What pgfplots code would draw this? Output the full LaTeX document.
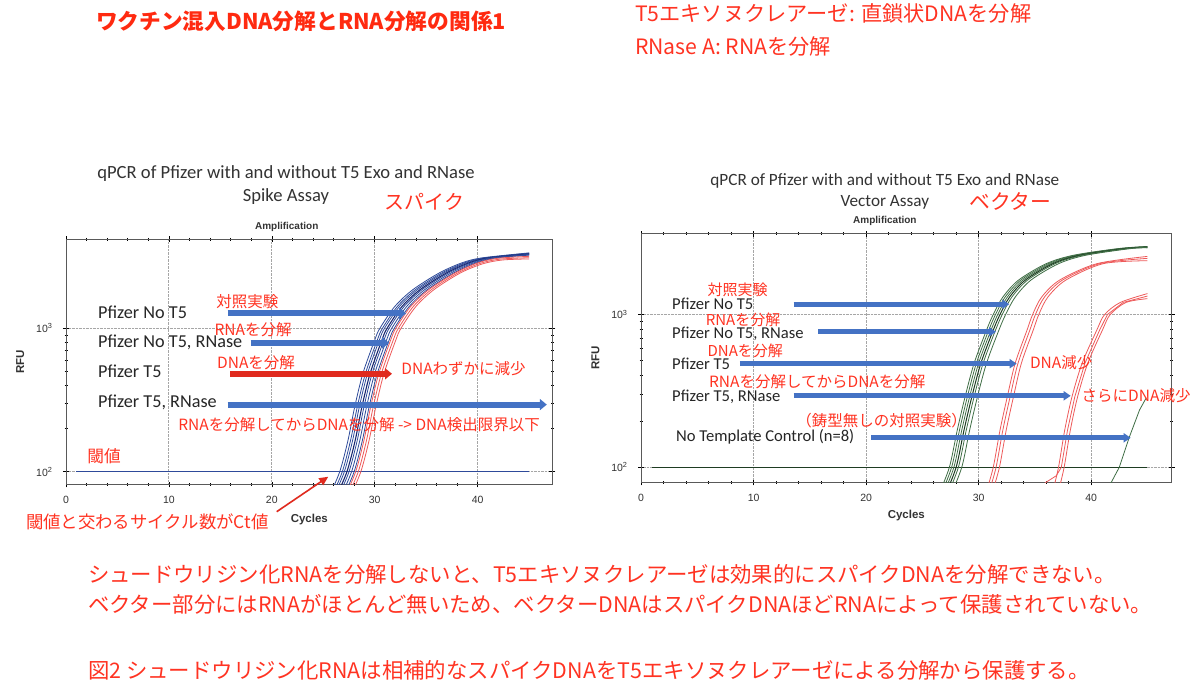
\documentclass[border=0pt]{standalone}
\usepackage{fontspec}
\usepackage{pgfplots}
\pgfplotsset{compat=1.18}
\usetikzlibrary{arrows.meta}
\setmainfont{Carlito}
\newfontfamily\jp{Noto Sans CJK JP}
\newfontfamily\lsans{Liberation Sans}
\newcommand\fs[1]{\fontsize{#1}{#1}\selectfont}
\definecolor{tred}{HTML}{FF2A10}
\definecolor{ared}{HTML}{FF3322}
\definecolor{bline}{HTML}{2E4A9A}
\definecolor{bdark}{HTML}{1A2870}
\definecolor{rline}{HTML}{EE5A5A}
\definecolor{gline}{HTML}{3F6E45}
\definecolor{gdark}{HTML}{1E3C22}
\definecolor{arrb}{HTML}{4472C4}
\definecolor{arrr}{HTML}{E02A1E}
\definecolor{txt}{HTML}{333333}
\pgfplotsset{every axis/.append style={
  scale only axis, ymode=log, xmin=0,
  xtick={0,10,20,30,40}, ytick={100,1000},
  yticklabels={10\textsuperscript{2},10\textsuperscript{3}},
  minor x tick num=4,
  grid=major, major grid style={densely dotted, gray!70, line width=0.9pt},
  axis line style={gray!70!black, line width=1pt},
  tick align=center, major tick length=6pt, minor tick length=3pt,
  tick style={black, line width=0.6pt},
  ticklabel style={font=\lsans\fs{10.5}, text=black!80},
  yticklabel style={xshift=-7pt},
  xticklabel style={yshift=-5pt},
  clip=true,
  axis background/.style={fill=white},
  /pgf/number format/assume math mode=true
}}
\tikzset{redc/.style={rline, line width=0.8pt}}
\begin{document}
\begin{tikzpicture}[x=1pt,y=1pt]
\fill[white] (0,0) rectangle (1200,686);
\useasboundingbox (0,0) rectangle (1200,686);
% ---------------- LEFT: Spike assay ----------------
\begin{axis}[at={(66pt,201.5pt)}, anchor=south west, width=486.3pt, height=245.2pt,
  xmax=47.26, ymin=81.5, ymax=4180]
\addplot[bline, line width=1.1pt] coordinates {(1,100)(45,100)};
\addplot[bline, line width=0.8pt, smooth] coordinates {(25.6,68)(26.6,100)(27.4,165)(28.05,282)(28.85,484)(30.0,828)(30.5,1000)(31.95,1420)(33.7,1860)(36.25,2430)(38.45,2860)(40.4,3100)(45,3360)};
\addplot[bline, line width=0.8pt, smooth] coordinates {(25.85,68)(26.85,100)(27.65,165)(28.3,282)(29.1,484)(30.25,828)(30.75,1000)(32.2,1420)(33.95,1860)(36.5,2430)(38.7,2860)(40.65,3100)(45,3340)};
\addplot[bline, line width=0.8pt, smooth] coordinates {(26.05,68)(27.05,100)(27.85,165)(28.5,282)(29.3,484)(30.45,828)(30.95,1000)(32.4,1420)(34.15,1860)(36.7,2430)(38.9,2860)(40.85,3100)(45,3320)};
\addplot[bdark, line width=1.1pt, smooth] coordinates {(26.3,68)(27.3,100)(28.1,165)(28.75,282)(29.55,484)(30.7,828)(31.2,1000)(32.65,1420)(34.4,1860)(36.95,2430)(39.15,2860)(41.1,3100)(45,3300)};
\addplot[bline, line width=0.8pt, smooth] coordinates {(26.5,68)(27.5,100)(28.3,165)(28.95,282)(29.75,484)(30.9,828)(31.4,1000)(32.85,1420)(34.6,1860)(37.15,2430)(39.35,2860)(41.3,3100)(45,3280)};
\addplot[bline, line width=0.8pt, smooth] coordinates {(26.75,68)(27.75,100)(28.55,165)(29.2,282)(30.0,484)(31.15,828)(31.65,1000)(33.1,1420)(34.85,1860)(37.4,2430)(39.6,2860)(41.55,3100)(45,3260)};
\addplot[bline, line width=0.8pt, smooth] coordinates {(27.0,68)(28.0,100)(28.8,165)(29.45,282)(30.25,484)(31.4,828)(31.9,1000)(33.35,1420)(35.1,1860)(37.65,2430)(39.85,2860)(41.8,3100)(45,3240)};
\addplot[redc, smooth] coordinates {(27.15,68)(28.15,100)(28.95,165)(29.6,282)(30.4,484)(31.55,828)(32.05,1000)(33.5,1420)(35.25,1860)(37.8,2430)(40.0,2860)(41.95,3080)(45,3180)};
\addplot[redc, smooth] coordinates {(27.4,68)(28.4,100)(29.2,165)(29.85,282)(30.65,484)(31.8,828)(32.3,1000)(33.75,1420)(35.5,1860)(38.05,2430)(40.25,2840)(42.2,3040)(45,3110)};
\addplot[redc, smooth] coordinates {(27.65,68)(28.65,100)(29.45,165)(30.1,282)(30.9,484)(32.05,828)(32.55,1000)(34.0,1420)(35.75,1860)(38.3,2430)(40.5,2820)(42.45,3000)(45,3050)};
\end{axis}
% ---------------- RIGHT: Vector assay ----------------
\begin{axis}[at={(641.1pt,203.5pt)}, anchor=south west, width=530.6pt, height=248.5pt,
  xmax=47.16, ymin=79.5, ymax=3365]
\addplot[gdark, line width=1.1pt] coordinates {(1,100)(45,100)};
\addplot[gline, line width=0.8pt, smooth] coordinates {(26.4,65)(27.4,100)(28.1,175)(28.8,290)(29.6,480)(30.7,790)(31.3,1000)(32.15,1300)(33.55,1680)(36.0,2150)(38.4,2440)(42.4,2700)(45,2790)};
\addplot[gline, line width=0.8pt, smooth] coordinates {(26.6,65)(27.6,100)(28.3,175)(29.0,290)(29.8,480)(30.9,790)(31.5,1000)(32.35,1300)(33.75,1680)(36.2,2150)(38.6,2440)(42.6,2700)(45,2780)};
\addplot[gline, line width=0.8pt, smooth] coordinates {(26.8,65)(27.8,100)(28.5,175)(29.2,290)(30.0,480)(31.1,790)(31.7,1000)(32.55,1300)(33.95,1680)(36.4,2150)(38.8,2440)(42.8,2700)(45,2770)};
\addplot[gdark, line width=1.0pt, smooth] coordinates {(27.0,65)(28.0,100)(28.7,175)(29.4,290)(30.2,480)(31.3,790)(31.9,1000)(32.75,1300)(34.15,1680)(36.6,2150)(39.0,2440)(43.0,2700)(45,2760)};
\addplot[gline, line width=0.8pt, smooth] coordinates {(27.2,65)(28.2,100)(28.9,175)(29.6,290)(30.4,480)(31.5,790)(32.1,1000)(32.95,1300)(34.35,1680)(36.8,2150)(39.2,2440)(43.2,2700)(45,2750)};
\addplot[gline, line width=0.8pt, smooth] coordinates {(27.5,65)(28.5,100)(29.2,175)(29.9,290)(30.7,480)(31.8,790)(32.4,1000)(33.25,1300)(34.65,1680)(37.1,2150)(39.5,2440)(43.5,2700)(45,2730)};
\addplot[redc, smooth] coordinates {(30.7,70)(31.3,100)(31.9,175)(32.55,290)(33.25,480)(34.3,790)(34.8,1000)(35.6,1300)(37.2,1680)(40.5,2150)(45,2400)};
\addplot[redc, smooth] coordinates {(30.95,70)(31.55,100)(32.15,175)(32.8,290)(33.5,480)(34.55,790)(35.05,1000)(35.85,1300)(37.45,1680)(40.75,2150)(45,2330)};
\addplot[redc, smooth] coordinates {(31.25,70)(31.85,100)(32.45,175)(33.1,290)(33.8,480)(34.85,790)(35.35,1000)(36.15,1300)(37.75,1680)(41.05,2150)(45,2250)};
\addplot[redc, smooth] coordinates {(36.6,70)(37.1,100)(37.65,175)(38.3,290)(39.2,480)(40.5,790)(41.2,1000)(42.6,1200)(45,1370)};
\addplot[redc] coordinates {(35.9,79)(36.9,88)(37.35,100)(37.9,175)(38.55,290)(39.45,480)(40.75,790)(41.45,1000)(42.85,1200)(45,1320)};
\addplot[redc, smooth] coordinates {(37.1,70)(37.6,100)(38.15,175)(38.8,290)(39.7,480)(41.0,790)(41.7,1000)(43.1,1200)(45,1270)};
\addplot[gline, line width=0.8pt] coordinates {(41.6,75)(42.5,100)(43.4,158)(44.3,237)(44.9,285)};
\end{axis}
% ---------------- annotations (top-left origin, y downwards) ----------------
\begin{scope}[shift={(0,686)}, x=1pt, y=-1pt, every node/.style={inner sep=0pt, outer sep=0pt}]
% arrows left
\draw[arrb, line width=6pt, -{Triangle[length=7pt, width=11pt]}] (227.5,313.3) -- (406.2,313.3);
\draw[arrb, line width=6pt, -{Triangle[length=7pt, width=11pt]}] (250.5,342.9) -- (389.2,342.9);
\draw[arrr, line width=6pt, -{Triangle[length=7pt, width=11pt]}] (230.1,373.8) -- (392.0,373.8);
\draw[arrb, line width=6pt, -{Triangle[length=7pt, width=11pt]}] (227.5,404.6) -- (546.8,404.6);
\draw[arrr, line width=1.6pt, -{Triangle[length=9pt, width=8pt]}] (276.7,511.7) -- (328.3,476.7);
% arrows right
\draw[arrb, line width=4.8pt, -{Triangle[length=7pt, width=9pt]}] (793.5,304.2) -- (1009.3,304.2);
\draw[arrb, line width=4.8pt, -{Triangle[length=7pt, width=9pt]}] (818.3,331.8) -- (996.0,331.8);
\draw[arrb, line width=4.8pt, -{Triangle[length=7pt, width=9pt]}] (739.8,363.7) -- (1016.7,363.7);
\draw[arrb, line width=4.8pt, -{Triangle[length=7pt, width=9pt]}] (793.5,395.8) -- (1070.7,395.8);
\draw[arrb, line width=4.8pt, -{Triangle[length=7pt, width=9pt]}] (871.2,437.8) -- (1130.7,437.8);
% top texts
\node[anchor=west, text=tred, font=\jp\bfseries\fs{21.7}] at (96,21.7) {ワクチン混入DNA分解とRNA分解の関係1};
\node[anchor=west, text=ared, font=\jp\fs{21.2}] at (635,13.5) {T5エキソヌクレアーゼ: 直鎖状DNAを分解};
\node[anchor=west, text=ared, font=\jp\fs{21.2}] at (635,46) {RNase A: RNAを分解};
% left chart texts
\node[text=txt, font=\fs{18.6}] at (286,173.3) {qPCR of Pfizer with and without T5 Exo and RNase};
\node[text=txt, font=\fs{18.6}] at (286,196.7) {Spike Assay};
\node[anchor=west, text=ared, font=\jp\fs{20}] at (384.8,201.7) {スパイク};
\node[text=black!80, font=\lsans\bfseries\fs{10}] at (286.7,226.7) {Amplification};
\node[text=black!80, font=\lsans\bfseries\fs{11.5}, rotate=90] at (20.3,361.7) {RFU};
\node[text=black!80, font=\lsans\bfseries\fs{11.5}] at (309.3,520) {Cycles};
\node[anchor=west, text=black!85, font=\fs{18.2}] at (98,312.3) {Pfizer No T5};
\node[anchor=west, text=black!85, font=\fs{18.2}] at (98,342.7) {Pfizer No T5, RNase};
\node[anchor=west, text=black!85, font=\fs{18.2}] at (98,371.7) {Pfizer T5};
\node[anchor=west, text=black!85, font=\fs{18.2}] at (98,402.3) {Pfizer T5, RNase};
\node[anchor=west, text=ared, font=\jp\fs{15.5}] at (216.4,301.7) {対照実験};
\node[anchor=west, text=ared, font=\jp\fs{15.5}] at (214.6,330) {RNAを分解};
\node[anchor=west, text=ared, font=\jp\fs{15.5}] at (217.2,362.3) {DNAを分解};
\node[anchor=west, text=ared, font=\jp\fs{15.5}] at (401.4,369) {DNAわずかに減少};
\node[anchor=west, text=ared, font=\jp\fs{15.5}] at (178.3,424.3) {RNAを分解してからDNAを分解 -> DNA検出限界以下};
\node[anchor=west, text=ared, font=\jp\fs{16.7}] at (87.3,455.7) {閾値};
\node[anchor=west, text=ared, font=\jp\fs{17.4}] at (26,521.7) {閾値と交わるサイクル数がCt値};
% right chart texts
\node[text=txt, font=\fs{17.2}] at (884.9,180.7) {qPCR of Pfizer with and without T5 Exo and RNase};
\node[text=txt, font=\fs{17.2}] at (884.9,202.7) {Vector Assay};
\node[anchor=west, text=ared, font=\jp\fs{20.8}] at (969.2,201.7) {ベクター};
\node[text=black!80, font=\lsans\bfseries\fs{10}] at (884.9,220.7) {Amplification};
\node[text=black!80, font=\lsans\bfseries\fs{11.5}, rotate=90] at (595.5,358) {RFU};
\node[text=black!80, font=\lsans\bfseries\fs{11.5}] at (906.3,516) {Cycles};
\node[anchor=west, text=black!85, font=\fs{16.6}] at (672.1,304.0) {Pfizer No T5};
\node[anchor=west, text=black!85, font=\fs{16.6}] at (672.1,333.4) {Pfizer No T5, RNase};
\node[anchor=west, text=black!85, font=\fs{16.6}] at (672.1,364) {Pfizer T5};
\node[anchor=west, text=black!85, font=\fs{16.6}] at (672.1,396.7) {Pfizer T5, RNase};
\node[anchor=west, text=black!85, font=\fs{16.6}] at (676.2,436.7) {No Template Control (n=8)};
\node[anchor=west, text=ared, font=\jp\fs{15}] at (707.6,290.3) {対照実験};
\node[anchor=west, text=ared, font=\jp\fs{15}] at (705.8,319.8) {RNAを分解};
\node[anchor=west, text=ared, font=\jp\fs{15}] at (707.6,351.2) {DNAを分解};
\node[anchor=west, text=ared, font=\jp\fs{15.5}] at (1030,363) {DNA減少};
\node[anchor=west, text=ared, font=\jp\fs{15.5}] at (709.1,381.7) {RNAを分解してからDNAを分解};
\node[anchor=west, text=ared, font=\jp\fs{15.5}] at (1081.7,395.5) {さらにDNA減少};
\node[anchor=west, text=ared, font=\jp\fs{15.5}] at (796.4,420.7) {（鋳型無しの対照実験）};
% bottom texts
\node[anchor=west, text=ared, font=\jp\fs{21.4}] at (88,574) {シュードウリジン化RNAを分解しないと、T5エキソヌクレアーゼは効果的にスパイクDNAを分解できない。};
\node[anchor=west, text=ared, font=\jp\fs{21.4}] at (88,604.5) {ベクター部分にはRNAがほとんど無いため、ベクターDNAはスパイクDNAほどRNAによって保護されていない。};
\node[anchor=west, text=ared, font=\jp\fs{21.4}] at (88,670) {図2 シュードウリジン化RNAは相補的なスパイクDNAをT5エキソヌクレアーゼによる分解から保護する。};
\end{scope}
\end{tikzpicture}
\end{document}
